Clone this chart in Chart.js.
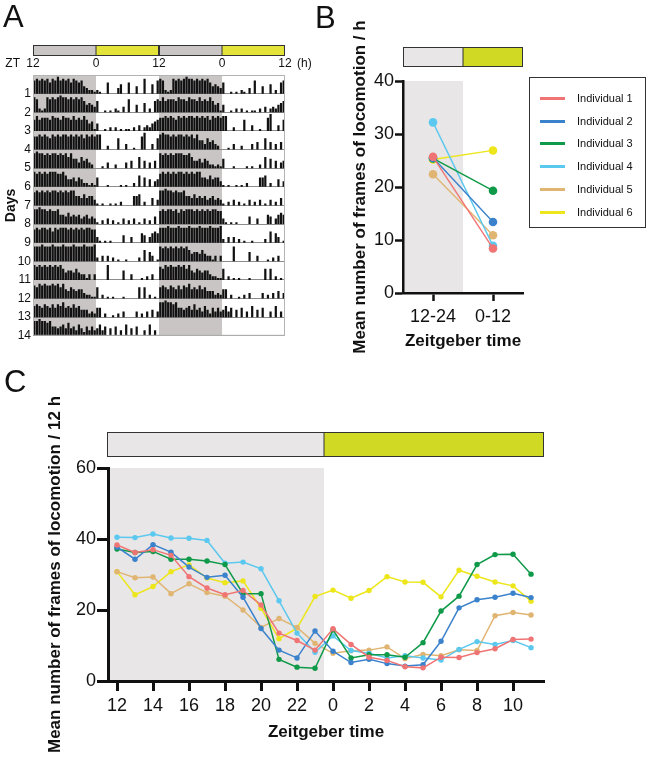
<!DOCTYPE html>
<html>
<head>
<meta charset="utf-8">
<script src="https://cdn.jsdelivr.net/npm/chart.js@4.4.1/dist/chart.umd.min.js"></script>
<style>
body { margin: 0; background: #fff; font-family: "Liberation Sans", Arial, sans-serif; }
#wrap { position: relative; width: 650px; height: 766px; overflow: hidden; }
.box { position: absolute; }
.letter { position: absolute; font-size: 31px; line-height: 31px; color: #111; }
#legend { position: absolute; left: 529px; top: 77px; width: 117px; height: 151px; border: 1px solid #333; box-sizing: border-box; }
#legend .item { position: absolute; left: 0; height: 14px; width: 117px; font-size: 11px; line-height: 14px; color: #111; }
#legend .item span.ln { position: absolute; left: 10px; top: 6px; width: 25px; height: 3px; }
#legend .item span.tx { position: absolute; left: 47px; top: 0; }
</style>
</head>
<body>
<div id="wrap">
  <div class="box" style="left:0;top:0;width:315px;height:345px"><canvas id="chartA"></canvas></div>
  <div class="box" style="left:300px;top:0;width:350px;height:360px"><canvas id="chartB"></canvas></div>
  <div class="box" style="left:0;top:360px;width:650px;height:406px"><canvas id="chartC"></canvas></div>
  <div class="letter" style="left:3px;top:1px">A</div>
  <div class="letter" style="left:315px;top:2px">B</div>
  <div class="letter" style="left:4px;top:366px">C</div>
  <div id="legend"></div>
</div>
<script>
// ---- panel A: actogram, one digit per 30 min bin (0 = no activity, 9 = nearly full row)
const darkPhase = [
  '787878687978786876743221',
  '872128787898878787864543',
  '686777687768776867686451',
  '778787687878878787868787',
  '898878788787868553645320',
  '878787888778644535422121',
  '787878788787878855464553',
  '889887877855464545345343',
  '787887868788878787878877',
  '888988898889888988898889',
  '878787878786455464331303',
  '768787787868546545532211',
  '676576575768565756444232',
  '889887855456474536425353'
];
const lightPhase = [
  '210060003500600400800507',
  '600101021030700400502067',
  '400102020101102030232456',
  '880020006003001007900306',
  '001030020003040060403040',
  '500010000101002060504034',
  '101001010200005560200403',
  '102030201030203010302040',
  '310101000040030005403565',
  '203030201001000020605301',
  '000080000050030001020300',
  '602010100010000060602010',
  '550200102030000302030403',
  '463504050306040500306030'
];
const ztLabelsA = ['12', '0', '12', '0', '12'];

// ---- panel B: mean frames / h per phase
const phaseLabels = ['12-24', '0-12'];
const ind1B = [25.7, 8.4];
const ind2B = [25.5, 13.4];
const ind3B = [25.4, 19.3];
const ind4B = [32.2, 8.9];
const ind5B = [22.4, 10.9];
const ind6B = [25.2, 26.9];

// ---- panel C: mean frames / 12 h per hour, ZT12 .. ZT11
const ztHours = [12, 13, 14, 15, 16, 17, 18, 19, 20, 21, 22, 23, 0, 1, 2, 3, 4, 5, 6, 7, 8, 9, 10, 11];
const ind1C = [38.3, 36.2, 37.0, 35.4, 29.4, 26.2, 24.3, 25.5, 21.4, 13.5, 11.4, 8.7, 14.7, 10.3, 6.7, 5.8, 4.0, 3.7, 6.7, 6.6, 8.0, 9.1, 11.7, 11.8];
const ind2C = [37.7, 34.3, 38.4, 36.3, 32.1, 29.2, 29.8, 23.6, 14.8, 8.7, 6.5, 14.1, 8.4, 5.2, 6.1, 4.9, 4.2, 4.6, 11.2, 20.6, 22.9, 23.6, 24.7, 23.5];
const ind3C = [37.2, 36.2, 36.5, 34.3, 34.3, 33.8, 32.8, 24.6, 24.6, 6.1, 3.9, 3.6, 14.4, 6.5, 7.4, 7.4, 6.7, 10.8, 19.7, 23.9, 32.8, 35.6, 35.7, 30.1];
const ind4C = [40.5, 40.4, 41.4, 40.3, 40.2, 39.6, 33.2, 33.5, 31.6, 22.6, 13.5, 8.1, 12.7, 8.6, 7.8, 6.5, 7.1, 6.5, 5.9, 8.9, 11.1, 10.3, 11.4, 9.4];
const ind5C = [30.8, 29.1, 29.3, 24.6, 27.4, 24.9, 23.9, 20.0, 15.1, 17.6, 15.1, 10.6, 7.8, 8.5, 8.7, 9.6, 6.3, 7.5, 7.1, 8.8, 8.6, 18.4, 19.3, 18.6];
const ind6C = [30.8, 24.3, 26.6, 30.8, 32.7, 29.0, 27.7, 28.2, 20.5, 11.9, 14.9, 23.8, 25.6, 23.3, 25.5, 29.4, 27.9, 27.8, 23.7, 31.2, 29.5, 27.9, 26.8, 22.5];

const names = ['Individual 1', 'Individual 2', 'Individual 3', 'Individual 4', 'Individual 5', 'Individual 6'];
const colors = ['#f07474', '#3b82cc', '#0e9a48', '#5bc8ef', '#e0b572', '#ece61a'];

const DARK_A = '#c9c5c5', LIGHT_A = '#e3e33a';
const DARK_BC = '#e8e6e7', LIGHT_BC = '#d0d923';

Chart.defaults.font.family = '"Liberation Sans", Arial, sans-serif';
Chart.defaults.color = '#111';
Chart.defaults.animation = false;

function ldBar(ctx, x0, xm, x1, y0, h, dark, light) {
  ctx.fillStyle = dark;
  ctx.fillRect(x0, y0, xm - x0, h);
  ctx.fillStyle = light;
  ctx.fillRect(xm, y0, x1 - xm, h);
  ctx.strokeStyle = '#333';
  ctx.lineWidth = 1;
  ctx.strokeRect(x0 + 0.5, y0 + 0.5, x1 - x0 - 1, h - 1);
  ctx.beginPath();
  ctx.moveTo(xm, y0); ctx.lineTo(xm, y0 + h);
  ctx.stroke();
}

// ---------- A ----------
const actoBars = [];
for (let row = 1; row <= 14; row++) {
  [row, row + 1].forEach((day, half) => {
    if (day > 14) return;
    const bins = (darkPhase[day - 1] + lightPhase[day - 1]).split('').map(Number);
    bins.forEach((v, i) => {
      if (v > 0) actoBars.push({x: half * 48 + i + 0.5, y: [row - v * 0.1, row]});
    });
  });
}

const actoPlugin = {
  id: 'acto',
  beforeDraw(chart) {
    const {ctx, chartArea: a, scales: {x}} = chart;
    ctx.save();
    ctx.fillStyle = DARK_A;
    [[0, 24], [48, 72]].forEach(([s, e]) => {
      const x0 = x.getPixelForValue(s), x1 = x.getPixelForValue(e);
      ctx.fillRect(x0, a.top, x1 - x0, a.bottom - a.top);
    });
    ctx.restore();
  },
  afterDraw(chart) {
    const {ctx, chartArea: a, scales: {x}} = chart;
    ctx.save();
    for (let i = 0; i < 4; i += 2) {
      ldBar(ctx, x.getPixelForValue(i * 24), x.getPixelForValue(i * 24 + 24), x.getPixelForValue(i * 24 + 48), 45, 11, DARK_A, LIGHT_A);
    }
    ctx.strokeStyle = '#b4b4b4';
    ctx.lineWidth = 1;
    ctx.strokeRect(a.left + 0.5, a.top + 0.5, a.right - a.left - 1, a.bottom - a.top - 1);
    ctx.fillStyle = '#111';
    ctx.font = '12px "Liberation Sans", Arial, sans-serif';
    ctx.textBaseline = 'middle';
    ctx.textAlign = 'right';
    ctx.fillText('ZT', a.left - 13, 64);
    ctx.textAlign = 'left';
    ctx.fillText('(h)', a.right + 12, 64);
    ctx.restore();
  }
};

new Chart(document.getElementById('chartA'), {
  type: 'bar',
  data: {
    datasets: [{
      data: actoBars,
      backgroundColor: '#111',
      barPercentage: 0.85,
      categoryPercentage: 1
    }]
  },
  options: {
    responsive: true,
    maintainAspectRatio: false,
    layout: {padding: {left: 0, top: 0, right: 30, bottom: 7}},
    plugins: {legend: {display: false}, tooltip: {enabled: false}},
    scales: {
      x: {
        type: 'linear', position: 'top', min: 0, max: 96, offset: false,
        grid: {display: false, drawTicks: false},
        border: {display: false},
        afterFit: s => { s.height = 75; },
        ticks: {stepSize: 24, padding: 4, maxRotation: 0, font: {size: 12},
          callback: v => ztLabelsA[v / 24]}
      },
      y: {
        min: 0, max: 14, reverse: true,
        grid: {color: '#8c8c8c', lineWidth: 1, drawTicks: false},
        border: {display: false},
        afterFit: s => { s.width = 33; },
        title: {display: true, text: 'Days', font: {size: 14, weight: 'bold'}, padding: {top: 3, bottom: 0}},
        ticks: {stepSize: 1, padding: 2, font: {size: 12}, callback: v => (v === 0 ? '' : v)}
      }
    }
  },
  plugins: [actoPlugin]
});

// ---------- B ----------
const seriesB = [ind1B, ind2B, ind3B, ind4B, ind5B, ind6B];
const phasePluginB = {
  id: 'phaseB',
  beforeDraw(chart) {
    const {ctx, chartArea: a, scales: {x, y}} = chart;
    const mid = (x.getPixelForValue(0) + x.getPixelForValue(1)) / 2;
    ctx.save();
    ctx.fillStyle = DARK_BC;
    ctx.fillRect(a.left, y.getPixelForValue(40), mid - a.left, a.bottom - y.getPixelForValue(40));
    ctx.restore();
  },
  afterDraw(chart) {
    const {ctx, chartArea: a, scales: {x}} = chart;
    const mid = (x.getPixelForValue(0) + x.getPixelForValue(1)) / 2;
    ctx.save();
    ldBar(ctx, a.left, mid, a.right, 47, 20, DARK_BC, LIGHT_BC);
    ctx.restore();
  }
};

new Chart(document.getElementById('chartB'), {
  type: 'line',
  data: {
    labels: phaseLabels,
    datasets: seriesB.map((d, i) => ({
      label: names[i], data: d,
      borderColor: colors[i], backgroundColor: colors[i],
      borderWidth: 1.4, pointRadius: 4.3, pointBorderWidth: 0
    }))
  },
  options: {
    responsive: true,
    maintainAspectRatio: false,
    layout: {padding: {left: 0, top: 81, right: 127, bottom: 0}},
    plugins: {legend: {display: false}, tooltip: {enabled: false}},
    scales: {
      x: {
        offset: true,
        grid: {display: true, offset: false, drawOnChartArea: false, tickLength: 8, tickWidth: 2.5, tickColor: '#111'},
        border: {display: true, width: 2.5, color: '#111'},
        afterFit: s => { s.height = 67; },
        ticks: {padding: 5, font: {size: 18}, maxRotation: 0},
        title: {display: true, text: 'Zeitgeber time', font: {size: 17, weight: 'bold'}, padding: {top: 0, bottom: 8}}
      },
      y: {
        min: 0, max: 40,
        grid: {display: true, drawOnChartArea: false, tickLength: 8, tickWidth: 2.5, tickColor: '#111'},
        border: {display: true, width: 2.5, color: '#111'},
        afterFit: s => { s.width = 103; },
        ticks: {stepSize: 10, padding: 1, font: {size: 18}},
        title: {display: true, text: 'Mean number of frames of locomotion / h', font: {size: 17, weight: 'bold'}, padding: {top: 50, bottom: 0}}
      }
    }
  },
  plugins: [phasePluginB]
});

// legend of panel B
const legendEl = document.getElementById('legend');
names.forEach((n, i) => {
  const it = document.createElement('div');
  it.className = 'item';
  it.style.top = (13 + i * 22.7) + 'px';
  it.innerHTML = '<span class="ln" style="background:' + colors[i] + '"></span><span class="tx">' + n + '</span>';
  legendEl.appendChild(it);
});

// ---------- C ----------
const seriesC = [ind1C, ind2C, ind3C, ind4C, ind5C, ind6C];
const xTicksC = [12, 14, 16, 18, 20, 22, 24, 26, 28, 30, 32, 34];
const phasePluginC = {
  id: 'phaseC',
  beforeDraw(chart) {
    const {ctx, chartArea: a, scales: {x, y}} = chart;
    const mid = x.getPixelForValue(23.5);
    ctx.save();
    ctx.fillStyle = DARK_BC;
    ctx.fillRect(a.left, y.getPixelForValue(60), mid - a.left, a.bottom - y.getPixelForValue(60));
    ctx.restore();
  },
  afterDraw(chart) {
    const {ctx, chartArea: a, scales: {x}} = chart;
    ctx.save();
    ldBar(ctx, a.left - 1, x.getPixelForValue(23.5), a.right, 72, 25, DARK_BC, LIGHT_BC);
    ctx.restore();
  }
};

new Chart(document.getElementById('chartC'), {
  type: 'line',
  data: {
    datasets: seriesC.map((d, i) => ({
      label: names[i],
      data: d.map((v, k) => ({x: 12 + k, y: v})),
      borderColor: colors[i], backgroundColor: colors[i],
      borderWidth: 1.5, pointRadius: 2.7, pointBorderWidth: 0
    }))
  },
  options: {
    responsive: true,
    maintainAspectRatio: false,
    layout: {padding: {left: 0, top: 108, right: 106, bottom: 0}},
    plugins: {legend: {display: false}, tooltip: {enabled: false}},
    scales: {
      x: {
        type: 'linear', min: 11.5, max: 35.72,
        grid: {display: true, drawOnChartArea: false, tickLength: 10, tickWidth: 3, tickColor: '#111'},
        border: {display: true, width: 3, color: '#111'},
        afterFit: s => { s.height = 85; },
        afterBuildTicks: s => { s.ticks = xTicksC.map(v => ({value: v})); },
        ticks: {padding: 4, font: {size: 18}, maxRotation: 0, autoSkip: false, callback: v => ztHours[v - 12]},
        title: {display: true, text: 'Zeitgeber time', font: {size: 17, weight: 'bold'}, padding: {top: 0, bottom: 23}}
      },
      y: {
        min: 0, max: 60,
        grid: {display: true, drawOnChartArea: false, tickLength: 11, tickWidth: 3, tickColor: '#111'},
        border: {display: true, width: 3, color: '#111'},
        afterFit: s => { s.width = 108; },
        ticks: {stepSize: 20, padding: 1, font: {size: 18}},
        title: {display: true, text: 'Mean number of frames of locomotion / 12 h', font: {size: 17, weight: 'bold'}, padding: {top: 45, bottom: 0}}
      }
    }
  },
  plugins: [phasePluginC]
});
</script>
</body>
</html>
